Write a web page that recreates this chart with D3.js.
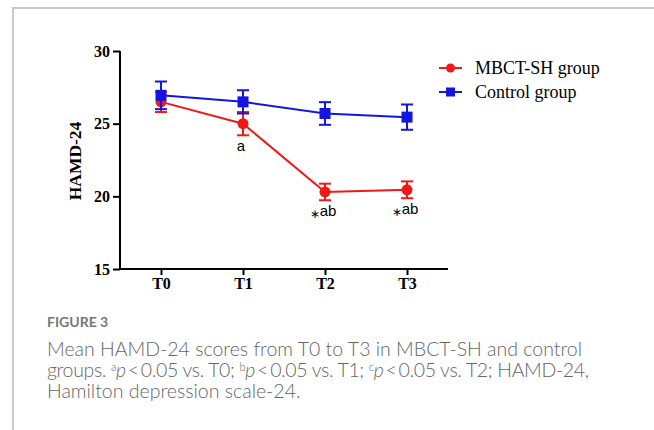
<!DOCTYPE html>
<html>
<head>
<meta charset="utf-8">
<script src="https://cdn.jsdelivr.net/npm/d3@7"></script>
<style>
  html, body { margin: 0; padding: 0; background: #fff; }
  svg { display: block; }
</style>
</head>
<body>
<svg id="chart" width="654" height="430"></svg>
<script>
const categories = ["T0", "T1", "T2", "T3"];
const mbctMean = [26.5, 25.0, 20.3, 20.45];
const mbctErr  = [0.7, 0.8, 0.57, 0.58];
const ctrlMean = [26.95, 26.5, 25.7, 25.45];
const ctrlErr  = [0.95, 0.8, 0.78, 0.87];
const mbctStars = [false, false, true, true];
const mbctNotes = ["", "a", "ab", "ab"];
const yTicks = [15, 20, 25, 30];
const seriesNames = ["MBCT-SH group", "Control group"];
const captionTitle = "FIGURE 3";

const RED = "#f01818", BLUE = "#1515e0";
const svg = d3.select("#chart");

// frame
svg.append("path").attr("d", "M13,430 V8 H654")
  .attr("fill", "none").attr("stroke", "#c9c9c9").attr("stroke-width", 2);

const x = d3.scalePoint().domain(categories).range([120, 448]).padding(0.5);
const y = d3.scaleLinear().domain([15, 30]).range([269, 51]);

const serif = "'Liberation Serif','Times New Roman',serif";

// axes
const yAxis = svg.append("g").attr("transform", "translate(120,0)")
  .call(d3.axisLeft(y).tickValues(yTicks).tickSize(7).tickPadding(3));
const xAxis = svg.append("g").attr("transform", "translate(0,269)")
  .call(d3.axisBottom(x).tickSize(6).tickPadding(3));
[yAxis, xAxis].forEach(g => {
  g.select(".domain").attr("stroke", "#000").attr("stroke-width", 2);
  g.selectAll(".tick line").attr("stroke", "#000").attr("stroke-width", 2);
  g.selectAll(".tick text").attr("fill", "#000")
    .style("font-family", serif).style("font-weight", "bold").style("font-size", "16px");
});
yAxis.select(".domain").attr("d", "M0,51V269");
xAxis.select(".domain").attr("d", "M120,0H448");

svg.append("text").attr("transform", "translate(81,161) rotate(-90)")
  .attr("text-anchor", "middle")
  .style("font-family", serif).style("font-weight", "bold").style("font-size", "17.5px")
  .text("HAMD-24");

function drawSeries(means, errs, color, marker) {
  const data = categories.map((c, i) => ({c, m: means[i], e: errs[i]}));
  const g = svg.append("g");
  g.append("path").datum(data)
    .attr("d", d3.line().x(d => x(d.c)).y(d => y(d.m)))
    .attr("fill", "none").attr("stroke", color).attr("stroke-width", 2);
  const eb = g.selectAll(".eb").data(data).enter().append("g");
  eb.append("line").attr("x1", d => x(d.c)).attr("x2", d => x(d.c))
    .attr("y1", d => y(d.m + d.e)).attr("y2", d => y(d.m - d.e))
    .attr("stroke", color).attr("stroke-width", 2);
  [1, -1].forEach(s => {
    eb.append("line").attr("x1", d => x(d.c) - 6).attr("x2", d => x(d.c) + 6)
      .attr("y1", d => y(d.m + s * d.e)).attr("y2", d => y(d.m + s * d.e))
      .attr("stroke", color).attr("stroke-width", 2);
  });
  if (marker === "circle") {
    g.selectAll("circle").data(data).enter().append("circle")
      .attr("cx", d => x(d.c)).attr("cy", d => y(d.m)).attr("r", 5.5).attr("fill", color);
  } else {
    g.selectAll("rect").data(data).enter().append("rect")
      .attr("x", d => x(d.c) - 5.5).attr("y", d => y(d.m) - 5.5)
      .attr("width", 11).attr("height", 11).attr("fill", color);
  }
}
drawSeries(mbctMean, mbctErr, RED, "circle");
drawSeries(ctrlMean, ctrlErr, BLUE, "square");

// annotations
const notes = svg.selectAll(".note")
  .data(categories.map((c, i) => ({c, t: mbctNotes[i], s: mbctStars[i], m: mbctMean[i], e: mbctErr[i]})))
  .enter().append("text")
  .attr("x", d => x(d.c) - 2).attr("y", d => y(d.m - d.e) + 16)
  .attr("text-anchor", "middle")
  .style("font-family", "'Liberation Sans',Arial,sans-serif").style("font-size", "15px");
notes.filter(d => d.s).append("tspan").attr("dy", 2).style("font-size", "12px").text("\u2217");
notes.append("tspan").attr("dy", d => d.s ? -2 : 0).text(d => d.t);

// legend
const legend = svg.append("g");
seriesNames.forEach((n, i) => {
  const ly = 68 + i * 24;
  const color = i === 0 ? RED : BLUE;
  legend.append("line").attr("x1", 439).attr("x2", 462).attr("y1", ly).attr("y2", ly)
    .attr("stroke", color).attr("stroke-width", 2);
  if (i === 0) legend.append("circle").attr("cx", 450.5).attr("cy", ly).attr("r", 4.5).attr("fill", color);
  else legend.append("rect").attr("x", 446).attr("y", ly - 4.5).attr("width", 9).attr("height", 9).attr("fill", color);
  legend.append("text").attr("x", 475).attr("y", ly + 6)
    .style("font-family", serif).style("font-size", "18px").text(n);
});

// caption
const capFont = "Lato,'Open Sans',sans-serif";
svg.append("text").attr("x", 47).attr("y", 327)
  .attr("fill", "#777")
  .style("font-family", capFont).style("font-weight", "bold").style("font-size", "14px")
  .text(captionTitle);

const capColor = "#666";
const cap = svg.append("g").attr("fill", capColor)
  .style("font-family", capFont).style("font-weight", "300").style("font-size", "19.5px");
cap.append("text").attr("x", 47).attr("y", 356)
  .text("Mean HAMD-24 scores from T0 to T3 in MBCT-SH and control");
const l2 = cap.append("text").attr("x", 47).attr("y", 377).style("letter-spacing", "-0.35px");
l2.append("tspan").text("groups. ");
[["a", "T0"], ["b", "T1"], ["c", "T2"]].forEach(([s, t], i) => {
  l2.append("tspan").attr("dy", -6).style("font-size", "11px").text(s);
  l2.append("tspan").attr("dy", 6).style("font-style", "italic").text("p");
  l2.append("tspan").text("\u2009<\u20090.05 vs. " + t + "; ");
});
l2.append("tspan").text("HAMD-24,");
cap.append("text").attr("x", 47).attr("y", 398).text("Hamilton depression scale-24.");
</script>
</body>
</html>
